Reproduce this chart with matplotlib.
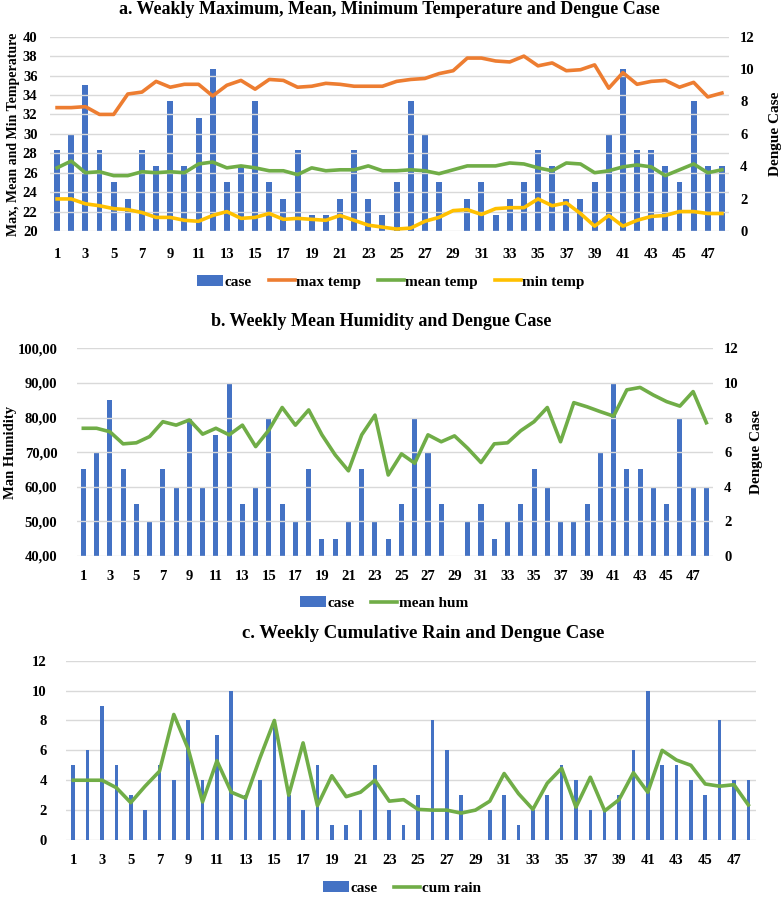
import matplotlib.pyplot as plt
import numpy as np

weeks = list(range(1, 49))
case = [5, 6, 9, 5, 3, 2, 5, 4, 8, 4, 7, 10, 3, 4, 8, 3, 2, 5, 1, 1, 2, 5, 2, 1,
        3, 8, 6, 3, 0, 2, 3, 1, 2, 3, 5, 4, 2, 2, 3, 6, 10, 5, 5, 4, 3, 8, 4, 4]
max_temp = [32.7, 32.7, 32.8, 32.0, 32.0, 34.1, 34.3, 35.4, 34.8, 35.1, 35.1, 33.9,
            35.0, 35.5, 34.6, 35.6, 35.5, 34.8, 34.9, 35.2, 35.1, 34.9, 34.9, 34.9,
            35.4, 35.6, 35.7, 36.2, 36.5, 37.8, 37.8, 37.5, 37.4, 38.0, 37.0, 37.3,
            36.5, 36.6, 37.1, 34.7, 36.3, 35.1, 35.4, 35.5, 34.8, 35.3, 33.8, 34.2]
mean_temp = [26.5, 27.2, 26.0, 26.1, 25.7, 25.7, 26.1, 26.0, 26.1, 26.0, 26.9, 27.1,
             26.5, 26.7, 26.5, 26.2, 26.2, 25.8, 26.5, 26.2, 26.3, 26.3, 26.7, 26.2,
             26.2, 26.3, 26.2, 25.9, 26.3, 26.7, 26.7, 26.7, 27.0, 26.9, 26.5, 26.2,
             27.0, 26.9, 26.0, 26.2, 26.6, 26.8, 26.6, 25.7, 26.3, 26.9, 26.0, 26.3]
min_temp = [23.3, 23.3, 22.8, 22.6, 22.3, 22.2, 21.9, 21.4, 21.4, 21.1, 21.0, 21.6,
            22.0, 21.3, 21.4, 21.8, 21.2, 21.3, 21.2, 21.1, 21.6, 21.1, 20.6, 20.4,
            20.2, 20.3, 21.0, 21.4, 22.1, 22.2, 21.7, 22.3, 22.4, 22.4, 23.3, 22.6,
            22.9, 21.8, 20.5, 21.6, 20.5, 21.1, 21.5, 21.6, 22.0, 22.0, 21.8, 21.8]
mean_hum = [76.9, 76.9, 75.9, 72.4, 72.7, 74.5, 78.8, 77.8, 79.3, 75.2, 76.9, 75.0,
            77.8, 71.6, 76.4, 82.9, 77.8, 82.2, 75.0, 69.2, 64.6, 75.0, 80.7, 63.4,
            69.5, 66.8, 75.0, 73.0, 74.7, 71.1, 67.0, 72.4, 72.7, 76.2, 78.8, 82.9,
            73.0, 84.3, 83.1, 81.7, 80.4, 88.0, 88.7, 86.5, 84.6, 83.3, 87.5, 78.5]
cum_rain = [4.0, 4.0, 4.0, 3.5, 2.5, 3.6, 4.6, 8.4, 6.1, 2.55, 5.3, 3.2,
            2.8, 5.5, 8.0, 3.0, 6.5, 2.3, 4.3, 2.9, 3.2, 4.0, 2.6, 2.7,
            2.05, 2.0, 2.0, 1.8, 2.0, 2.6, 4.45, 3.1, 2.05, 3.8, 4.8, 2.2,
            4.2, 1.95, 2.7, 4.5, 3.2, 6.0, 5.35, 5.0, 3.75, 3.6, 3.7, 2.35]

BLUE = '#4472C4'
ORANGE = '#ED7D31'
GREEN = '#70AD47'
YELLOW = '#FFC000'
GRID = '#D9D9D9'
plt.rcParams['font.family'] = ['Liberation Serif', 'DejaVu Serif']
plt.rcParams['font.weight'] = 'bold'
plt.rcParams['axes.labelweight'] = 'bold'
plt.rcParams['axes.titleweight'] = 'bold'

W, H = 782, 897
fig = plt.figure(figsize=(W / 100, H / 100), dpi=100)
x = np.arange(len(weeks))
xt = x[::2]
xtl = [str(w) for w in weeks[::2]]
leg_kw = dict(frameon=False, fontsize=11, loc='center', handlelength=1.7,
              handletextpad=0.1, columnspacing=1.1)


def box(l, r, t, b):
    return [l / W, 1 - b / H, (r - l) / W, (b - t) / H]


def style(ax):
    for s in ax.spines.values():
        s.set_visible(False)
    ax.tick_params(length=0, labelsize=10.5)
    ax.set_xlim(-0.5, len(weeks) - 0.5)


# ---- panel a
ax = fig.add_axes(box(50, 729, 36.7, 231))
ax2 = ax.twinx()
ax2.bar(x, case, width=0.42, color=BLUE, label='case')
ax.plot(x, max_temp, color=ORANGE, lw=2.6, label='max temp')
ax.plot(x, mean_temp, color=GREEN, lw=2.6, label='mean temp')
ax.plot(x, min_temp, color=YELLOW, lw=2.6, label='min temp')
ax.set_ylim(20, 40)
ax.set_yticks(range(20, 41, 2))
ax2.set_ylim(0, 12)
ax2.set_yticks(range(0, 13, 2))
ax.set_zorder(ax2.get_zorder() + 1)
ax.patch.set_visible(False)
ax.yaxis.grid(True, color=GRID, lw=1)
for a in (ax, ax2):
    style(a)
ax.tick_params(axis='x', pad=12)
ax.tick_params(axis='y', pad=9)
ax2.tick_params(axis='y', pad=8)
ax.set_xticks(xt, xtl)
ax.set_ylabel('Max, Mean and Min Temperature', fontsize=10)
ax.yaxis.set_label_coords((20 - 50) / 679, 0.5)
ax2.set_ylabel('Dengue Case', fontsize=11, labelpad=10)
ax.set_title('a. Weakly Maximum, Mean, Minimum Temperature and Dengue Case',
             fontsize=13, pad=16)
h1, l1 = ax2.get_legend_handles_labels()
h2, l2 = ax.get_legend_handles_labels()
fig.legend(h1 + h2, l1 + l2, ncol=4, bbox_to_anchor=(391 / W, 1 - 282 / H),
           **leg_kw)

# ---- panel b
bx = fig.add_axes(box(76.7, 713, 348.3, 556))
bx2 = bx.twinx()
bx2.bar(x, case, width=0.38, color=BLUE, label='case')
bx.plot(x, mean_hum, color=GREEN, lw=2.6, label='mean hum')
bx.set_ylim(40, 100)
bx.set_yticks(range(40, 101, 10), [f'{v},00' for v in range(40, 101, 10)])
bx2.set_ylim(0, 12)
bx2.set_yticks(range(0, 13, 2))
bx.set_zorder(bx2.get_zorder() + 1)
bx.patch.set_visible(False)
bx.yaxis.grid(True, color=GRID, lw=1)
for a in (bx, bx2):
    style(a)
bx.tick_params(axis='x', pad=10)
bx.tick_params(axis='y', pad=14)
bx2.tick_params(axis='y', pad=8)
bx.set_xticks(xt, xtl)
bx.set_ylabel('Man Humidity', fontsize=10.5)
bx.yaxis.set_label_coords((17 - 76.7) / 636.3, 0.5)
bx2.set_ylabel('Dengue Case', fontsize=11, labelpad=8)
bx.set_title('b. Weekly Mean Humidity and Dengue Case', fontsize=13, pad=16,
             x=(381 - 76.7) / 636.3)
h1, l1 = bx2.get_legend_handles_labels()
h2, l2 = bx.get_legend_handles_labels()
fig.legend(h1 + h2, l1 + l2, ncol=2, bbox_to_anchor=(384 / W, 1 - 603 / H),
           **leg_kw)

# ---- panel c
cx = fig.add_axes(box(66.1, 755.5, 660.7, 840))
bars = cx.bar(x, case, width=0.25, color=BLUE, label='case')
line, = cx.plot(x, cum_rain, color=GREEN, lw=2.6, label='cum rain')
cx.set_ylim(0, 12)
cx.set_yticks(range(0, 13, 2))
cx.yaxis.grid(True, color=GRID, lw=1)
cx.set_axisbelow(True)
style(cx)
cx.tick_params(axis='x', pad=10)
cx.tick_params(axis='y', pad=14)
cx.set_xticks(xt, xtl)
cx.set_title('c. Weekly Cumulative Rain and Dengue Case', fontsize=13.5, pad=16,
             x=(423 - 66.1) / 689.4)
fig.legend([bars, line], ['case', 'cum rain'], ncol=2,
           bbox_to_anchor=(402 / W, 1 - 888 / H), **leg_kw)

fig.savefig('out.png', dpi=100)
